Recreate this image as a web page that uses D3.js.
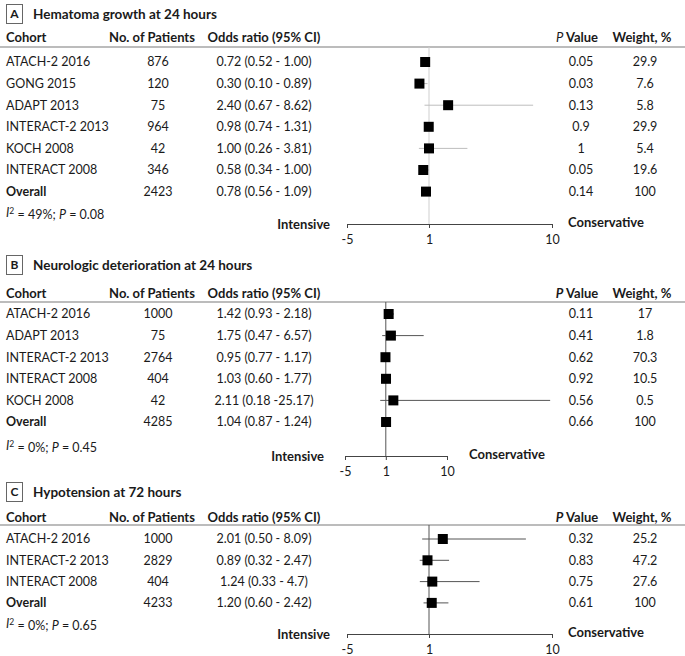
<!DOCTYPE html>
<html>
<head>
<meta charset="utf-8">
<script src="https://cdn.jsdelivr.net/npm/d3@7"></script>
<style>
  body { margin: 0; background: #fff; }
  svg { font-family: Lato, "Open Sans", sans-serif; }
</style>
</head>
<body>
<div id="chart"></div>
<script>
// panel A - hematoma growth
var cohortsA = ['ATACH-2 2016', 'GONG 2015', 'ADAPT 2013', 'INTERACT-2 2013', 'KOCH 2008', 'INTERACT 2008', 'Overall']
var patientsA = [876, 120, 75, 964, 42, 346, 2423]
var orA = [0.72, 0.30, 2.40, 0.98, 1.00, 0.58, 0.78]
var loA = [0.52, 0.10, 0.67, 0.74, 0.26, 0.34, 0.56]
var hiA = [1.00, 0.89, 8.62, 1.31, 3.81, 1.00, 1.09]
var orTextA = ['0.72 (0.52 - 1.00)', '0.30 (0.10 - 0.89)', '2.40 (0.67 - 8.62)', '0.98 (0.74 - 1.31)', '1.00 (0.26 - 3.81)', '0.58 (0.34 - 1.00)', '0.78 (0.56 - 1.09)']
var pA = ['0.05', '0.03', '0.13', '0.9', '1', '0.05', '0.14']
var weightA = ['29.9', '7.6', '5.8', '29.9', '5.4', '19.6', '100']

// panel B - neurologic deterioration
var cohortsB = ['ATACH-2 2016', 'ADAPT 2013', 'INTERACT-2 2013', 'INTERACT 2008', 'KOCH 2008', 'Overall']
var patientsB = [1000, 75, 2764, 404, 42, 4285]
var orB = [1.42, 1.75, 0.95, 1.03, 2.11, 1.04]
var loB = [0.93, 0.47, 0.77, 0.60, 0.18, 0.87]
var hiB = [2.18, 6.57, 1.17, 1.77, 25.17, 1.24]
var orTextB = ['1.42 (0.93 - 2.18)', '1.75 (0.47 - 6.57)', '0.95 (0.77 - 1.17)', '1.03 (0.60 - 1.77)', '2.11 (0.18 -25.17)', '1.04 (0.87 - 1.24)']
var pB = ['0.11', '0.41', '0.62', '0.92', '0.56', '0.66']
var weightB = ['17', '1.8', '70.3', '10.5', '0.5', '100']

// panel C - hypotension
var cohortsC = ['ATACH-2 2016', 'INTERACT-2 2013', 'INTERACT 2008', 'Overall']
var patientsC = [1000, 2829, 404, 4233]
var orC = [2.01, 0.89, 1.24, 1.20]
var loC = [0.50, 0.32, 0.33, 0.60]
var hiC = [8.09, 2.47, 4.7, 2.42]
var orTextC = ['2.01 (0.50 - 8.09)', '0.89 (0.32 - 2.47)', '1.24 (0.33 - 4.7)', '1.20 (0.60 - 2.42)']
var pC = ['0.32', '0.83', '0.75', '0.61']
var weightC = ['25.2', '47.2', '27.6', '100']

var axisTicks = [-5, 1, 10]
var axisDomain = [-5, 10]

var width = 685
var height = 656

var svg = d3.select('#chart')
    .append('svg')
    .attr('width', width)
    .attr('height', height)

var txt = '#1a1a1a'

function drawPanel(p) {
    var g = svg.append('g')
    var rows = p.cohorts.map(function (c, i) {
        return { cohort: c, n: p.patients[i], or: p.or[i], lo: p.lo[i], hi: p.hi[i], label: p.orText[i], p: p.pv[i], w: p.weight[i] }
    })

    var x = d3.scaleLinear().domain(axisDomain).range(p.xRange)
    var y = d3.scalePoint()
        .domain(p.cohorts)
        .range([p.row0, p.row0 + p.step * (p.cohorts.length - 1)])

    // letter box and title
    g.append('rect')
        .attr('x', 6.5).attr('y', p.titleY - 9.5)
        .attr('width', 16).attr('height', 19)
        .attr('fill', 'none').attr('stroke', '#666')
    g.append('text')
        .attr('x', 14.5).attr('y', p.titleY)
        .attr('dy', '0.35em')
        .attr('text-anchor', 'middle')
        .style('font-weight', 'bold').style('font-size', '12px')
        .attr('fill', txt)
        .text(p.letter)
    g.append('text')
        .attr('x', 33).attr('y', p.titleY)
        .attr('dy', '0.35em')
        .style('font-weight', 'bold').style('font-size', '13.5px')
        .attr('fill', txt)
        .text(p.title)

    // header
    var head = g.append('g')
        .style('font-weight', 'bold').style('font-size', '13px')
        .attr('fill', txt)
    head.append('text').attr('x', 6).attr('y', p.headY).attr('dy', '0.35em').text('Cohort')
    head.append('text').attr('x', 152).attr('y', p.headY).attr('dy', '0.35em').attr('text-anchor', 'middle').text('No. of Patients')
    head.append('text').attr('x', 264).attr('y', p.headY).attr('dy', '0.35em').attr('text-anchor', 'middle').text('Odds ratio (95% CI)')
    var pv = head.append('text').attr('x', 577).attr('y', p.headY).attr('dy', '0.35em').attr('text-anchor', 'middle')
    pv.append('tspan').style('font-style', 'italic').style('font-weight', p.lightP ? 'normal' : 'bold').text('P')
    pv.append('tspan').text(' Value')
    head.append('text').attr('x', 642).attr('y', p.headY).attr('dy', '0.35em').attr('text-anchor', 'middle').text('Weight, %')

    g.append('line')
        .attr('x1', 0).attr('x2', width)
        .attr('y1', p.lineY).attr('y2', p.lineY)
        .attr('stroke', '#a6a6a6').attr('stroke-width', 1.5)

    // reference line at OR = 1
    g.append('line')
        .attr('x1', x(1)).attr('x2', x(1))
        .attr('y1', p.lineY).attr('y2', p.axisY)
        .attr('stroke', p.refColor).attr('stroke-width', 1)

    // table columns
    var rowG = g.selectAll('.row')
        .data(rows)
        .enter()
        .append('g')
        .attr('class', 'row')
        .style('font-size', '12.5px')
        .attr('fill', txt)

    rowG.append('text')
        .attr('x', 6).attr('y', function (d) { return y(d.cohort) }).attr('dy', '0.35em')
        .style('font-weight', function (d) { return d.cohort == 'Overall' ? 'bold' : 'normal' })
        .text(function (d) { return d.cohort })
    rowG.append('text')
        .attr('x', 158).attr('y', function (d) { return y(d.cohort) }).attr('dy', '0.35em')
        .attr('text-anchor', 'middle')
        .text(function (d) { return d.n })
    rowG.append('text')
        .attr('x', 264).attr('y', function (d) { return y(d.cohort) }).attr('dy', '0.35em')
        .attr('text-anchor', 'middle')
        .text(function (d) { return d.label })
    rowG.append('text')
        .attr('x', 581).attr('y', function (d) { return y(d.cohort) }).attr('dy', '0.35em')
        .attr('text-anchor', 'middle')
        .text(function (d) { return d.p })
    rowG.append('text')
        .attr('x', 645).attr('y', function (d) { return y(d.cohort) }).attr('dy', '0.35em')
        .attr('text-anchor', 'middle')
        .text(function (d) { return d.w })

    // whiskers and squares
    rowG.append('line')
        .attr('x1', function (d) { return x(d.lo) })
        .attr('x2', function (d) { return x(d.hi) })
        .attr('y1', function (d) { return y(d.cohort) })
        .attr('y2', function (d) { return y(d.cohort) })
        .attr('stroke', p.ciColor).attr('stroke-width', 1)
    rowG.append('rect')
        .attr('x', function (d) { return x(d.or) - 5 })
        .attr('y', function (d) { return y(d.cohort) - 5 })
        .attr('width', 10).attr('height', 10)
        .attr('fill', '#000')

    // heterogeneity line
    var het = g.append('text')
        .attr('x', 6).attr('y', p.hetY).attr('dy', '0.35em')
        .style('font-size', '12.5px')
        .attr('fill', txt)
    het.append('tspan').style('font-style', 'italic').text('I')
    het.append('tspan').attr('dy', '-0.4em').style('font-size', '8.5px').text('2')
    het.append('tspan').attr('dy', '0.4em').text(' = ' + p.i2 + '; ')
    het.append('tspan').style('font-style', 'italic').text('P')
    het.append('tspan').text(' = ' + p.hetP)

    // axis (plain hyphen for negatives, like the source)
    var axis = g.append('g')
        .attr('transform', 'translate(0,' + p.axisY + ')')
        .call(d3.axisBottom(x)
            .tickValues(axisTicks)
            .tickFormat(function (d) { return String(d) })
            .tickSize(4).tickSizeOuter(0).tickPadding(7))
    axis.select('.domain').attr('stroke', '#444')
    axis.selectAll('.tick line').attr('stroke', '#444')
    axis.selectAll('.tick text')
        .attr('fill', txt)
        .style('font-size', '12.5px')
        .style('font-family', 'Lato, sans-serif')

    g.append('text')
        .attr('x', x(-5) - p.gapL).attr('y', p.axisY).attr('dy', '0.35em')
        .attr('text-anchor', 'end')
        .style('font-weight', 'bold').style('font-size', '13px')
        .attr('fill', txt)
        .text('Intensive')
    g.append('text')
        .attr('x', x(10) + p.gapR).attr('y', p.axisY).attr('dy', '0.2em')
        .style('font-weight', 'bold').style('font-size', '13px')
        .attr('fill', txt)
        .text('Conservative')
}

drawPanel({
    letter: 'A', title: 'Hematoma growth at 24 hours',
    cohorts: cohortsA, patients: patientsA, or: orA, lo: loA, hi: hiA, orText: orTextA, pv: pA, weight: weightA,
    i2: '49%', hetP: '0.08', lightP: true,
    titleY: 14, headY: 37, lineY: 47, row0: 62, step: 21.6, hetY: 213, axisY: 224,
    xRange: [347, 552], refColor: '#cfcfcf', ciColor: '#bdbdbd', gapL: 17, gapR: 16
})

drawPanel({
    letter: 'B', title: 'Neurologic deterioration at 24 hours',
    cohorts: cohortsB, patients: patientsB, or: orB, lo: loB, hi: hiB, orText: orTextB, pv: pB, weight: weightB,
    i2: '0%', hetP: '0.45', lightP: false,
    titleY: 265, headY: 293, lineY: 302, row0: 314, step: 21.6, hetY: 446, axisY: 456,
    xRange: [345, 447], refColor: '#555', ciColor: '#555', gapL: 21, gapR: 22
})

drawPanel({
    letter: 'C', title: 'Hypotension at 72 hours',
    cohorts: cohortsC, patients: patientsC, or: orC, lo: loC, hi: hiC, orText: orTextC, pv: pC, weight: weightC,
    i2: '0%', hetP: '0.65', lightP: false,
    titleY: 492, headY: 517, lineY: 525, row0: 539, step: 21.3, hetY: 624, axisY: 634,
    xRange: [347, 552], refColor: '#555', ciColor: '#555', gapL: 17, gapR: 16
})
</script>
</body>
</html>
